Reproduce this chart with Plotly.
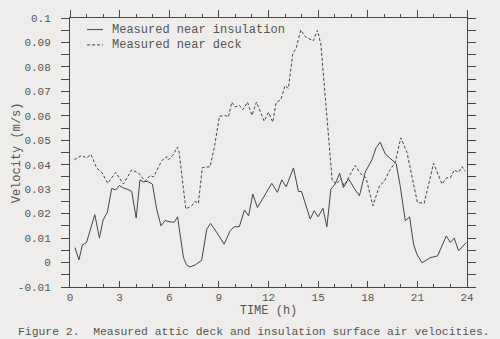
import plotly.graph_objects as go

# Air velocity near the insulation surface (time in hours, velocity in m/s)
insul_time = [0.3, 0.54, 0.75, 1.0, 1.5, 1.78, 2.0, 2.26, 2.52, 2.76, 2.98, 3.23, 3.45, 3.73,
              4.0, 4.23, 4.43, 4.68, 4.98, 5.24, 5.5, 5.75, 6.05, 6.3, 6.5, 6.86, 7.05, 7.26,
              7.56, 7.96, 8.27, 8.5, 8.87, 9.32, 9.68, 9.92, 10.24, 10.55, 10.8, 11.05, 11.33,
              11.85, 12.2, 12.54, 12.8, 13.07, 13.51, 13.81, 14.0, 14.52, 14.76, 15.0, 15.29,
              15.53, 15.77, 16.03, 16.3, 16.53, 16.84, 17.24, 17.5, 17.85, 18.25, 18.5, 18.75,
              19.06, 19.46, 19.72, 19.96, 20.27, 20.53, 20.77, 20.97, 21.28, 21.78, 22.22,
              22.75, 22.99, 23.23, 23.49, 23.96]
insul_vel = [0.0061, 0.0011, 0.0072, 0.0082, 0.0196, 0.0100, 0.0174, 0.0206, 0.0303, 0.0297,
             0.0315, 0.0305, 0.0300, 0.0291, 0.0182, 0.0338, 0.0330, 0.0332, 0.0321, 0.0219,
             0.0150, 0.0172, 0.0166, 0.0165, 0.0187, 0.0020, -0.0010, -0.0018, -0.0010, 0.0009,
             0.0137, 0.0160, 0.0123, 0.0075, 0.0130, 0.0146, 0.0147, 0.0215, 0.0191, 0.0280,
             0.0225, 0.0282, 0.0324, 0.0287, 0.0338, 0.0310, 0.0387, 0.0291, 0.0290, 0.0178,
             0.0212, 0.0187, 0.0222, 0.0146, 0.0300, 0.0321, 0.0365, 0.0307, 0.0342, 0.0297,
             0.0273, 0.0370, 0.0420, 0.0469, 0.0492, 0.0444, 0.0420, 0.0404, 0.0314, 0.0171,
             0.0187, 0.0075, 0.0034, -0.0001, 0.0020, 0.0027, 0.0109, 0.0082, 0.0100, 0.0048,
             0.0082]

# Air velocity near the attic deck
deck_time = [0.26, 0.7, 1.0, 1.27, 1.61, 1.92, 2.28, 2.76, 3.23, 3.73, 4.17, 4.54, 4.84, 5.05,
             5.55, 5.85, 5.95, 6.21, 6.49, 6.6, 7.0, 7.36, 7.56, 7.76, 8.0, 8.47, 8.75, 9.03,
             9.38, 9.58, 9.78, 9.98, 10.24, 10.45, 10.73, 11.0, 11.27, 11.74, 12.0, 12.26,
             12.46, 12.75, 13.0, 13.2, 13.47, 13.67, 13.95, 14.22, 14.7, 14.96, 15.17, 15.85,
             16.1, 16.37, 16.57, 16.94, 17.24, 17.54, 17.9, 18.31, 18.71, 19.0, 19.32, 19.66,
             20.0, 20.37, 20.67, 21.0, 21.41, 21.98, 22.49, 22.75, 22.99, 23.23, 23.49, 23.7,
             23.9]
deck_vel = [0.0420, 0.0438, 0.0428, 0.0442, 0.0387, 0.0369, 0.0324, 0.0369, 0.0321, 0.0379,
            0.0365, 0.0332, 0.0356, 0.0350, 0.0417, 0.0433, 0.0420, 0.0438, 0.0472, 0.0451,
            0.0219, 0.0232, 0.0250, 0.0242, 0.0388, 0.0392, 0.0480, 0.0598, 0.0602, 0.0595,
            0.0656, 0.0636, 0.0643, 0.0625, 0.0656, 0.0602, 0.0656, 0.0578, 0.0614, 0.0574,
            0.0654, 0.0666, 0.0723, 0.0712, 0.0855, 0.0876, 0.0951, 0.0924, 0.0906, 0.0950,
            0.0890, 0.0335, 0.0321, 0.0342, 0.0314, 0.0362, 0.0397, 0.0365, 0.0346, 0.0232,
            0.0314, 0.0332, 0.0376, 0.0410, 0.0510, 0.0451, 0.0356, 0.0246, 0.0242, 0.0406,
            0.0321, 0.0346, 0.0346, 0.0379, 0.0369, 0.0392, 0.0373]

x_ticks = [0, 3, 6, 9, 12, 15, 18, 21, 24]
y_ticks = [-0.01, 0, 0.01, 0.02, 0.03, 0.04, 0.05, 0.06, 0.07, 0.08, 0.09, 0.1]
y_tick_text = ["-0.01", "0", "0.01", "0.02", "0.03", "0.04", "0.05", "0.06", "0.07",
               "0.08", "0.09", "0.1"]

series_names = ["Measured near insulation", "Measured near deck"]
caption = "Figure 2.  Measured attic deck and insulation surface air velocities."
y_title = "Velocity (m/s)"

BG = "#eeedeb"
INK = "#464646"
TXT = "#555555"
FONT = "Liberation Mono"
X_RANGE = [0, 24]

fig = go.Figure()
fig.add_trace(go.Scatter(x=insul_time, y=insul_vel, mode="lines", name=series_names[0],
                         line=dict(color=INK, width=1), showlegend=False))
fig.add_trace(go.Scatter(x=deck_time, y=deck_vel, mode="lines", name=series_names[1],
                         line=dict(color=INK, width=1, dash="3px,2px"), showlegend=False))
# Transparent copy bound to the top time axis so that axis gets drawn
fig.add_trace(go.Scatter(x=deck_time, y=deck_vel, mode="lines", xaxis="x2",
                         line=dict(width=0), opacity=0, hoverinfo="skip", showlegend=False))

# Legend drawn in the upper-left corner of the plot frame
legend_rows = [(0.957, "solid"), (0.9, "3px,2px")]
for (yy, dash), name in zip(legend_rows, series_names):
    fig.add_shape(type="line", xref="paper", yref="paper", x0=0.043, x1=0.083, y0=yy, y1=yy,
                  line=dict(color=INK, width=1, dash=dash))
    fig.add_annotation(xref="paper", yref="paper", x=0.1, y=yy, text=name, showarrow=False,
                       xanchor="left", yanchor="middle",
                       font=dict(family=FONT, size=12, color=TXT))

# Vertical axis title and figure caption
fig.add_annotation(xref="paper", yref="paper", x=-0.134, y=0.5, text=y_title,
                   showarrow=False, textangle=-90, xanchor="center", yanchor="middle",
                   font=dict(family=FONT, size=12, color=TXT))
fig.add_annotation(xref="paper", yref="paper", x=-0.137, y=-0.167, text=caption,
                   showarrow=False, xanchor="left", yanchor="middle",
                   font=dict(family=FONT, size=11.4, color=TXT))

tick_font = dict(family=FONT, size=11, color=TXT)

fig.update_layout(
    xaxis=dict(range=X_RANGE, tickvals=x_ticks, ticks="inside", ticklen=6, tickcolor=INK,
               minor=dict(dtick=1, tick0=0, ticklen=3, ticks="inside", tickcolor=INK),
               showline=True, linecolor=INK, linewidth=1, mirror=False,
               showgrid=False, zeroline=False, tickfont=tick_font,
               title=dict(text="TIME (h)", font=dict(family=FONT, size=12, color=TXT),
                          standoff=2)),
    xaxis2=dict(range=X_RANGE, overlaying="x", side="top", tickvals=x_ticks,
                showticklabels=False, ticks="outside", ticklen=7, tickcolor=INK,
                minor=dict(dtick=1, tick0=0, ticklen=3, ticks="outside", tickcolor=INK),
                showline=True, linecolor=INK, linewidth=1, showgrid=False, zeroline=False),
    yaxis=dict(range=[-0.01, 0.1], tickvals=y_ticks, ticktext=y_tick_text,
               ticks="outside", ticklen=8, tickcolor=INK, ticklabelstandoff=8,
               minor=dict(dtick=0.005, tick0=0, ticklen=3, ticks="outside", tickcolor=INK),
               showline=True, linecolor=INK, linewidth=1, mirror="allticks",
               showgrid=False, zeroline=False, tickfont=tick_font),
    width=500, height=339, paper_bgcolor=BG, plot_bgcolor=BG,
    margin=dict(l=70, r=33, t=18, b=52),
)

fig.write_html("out.html")
